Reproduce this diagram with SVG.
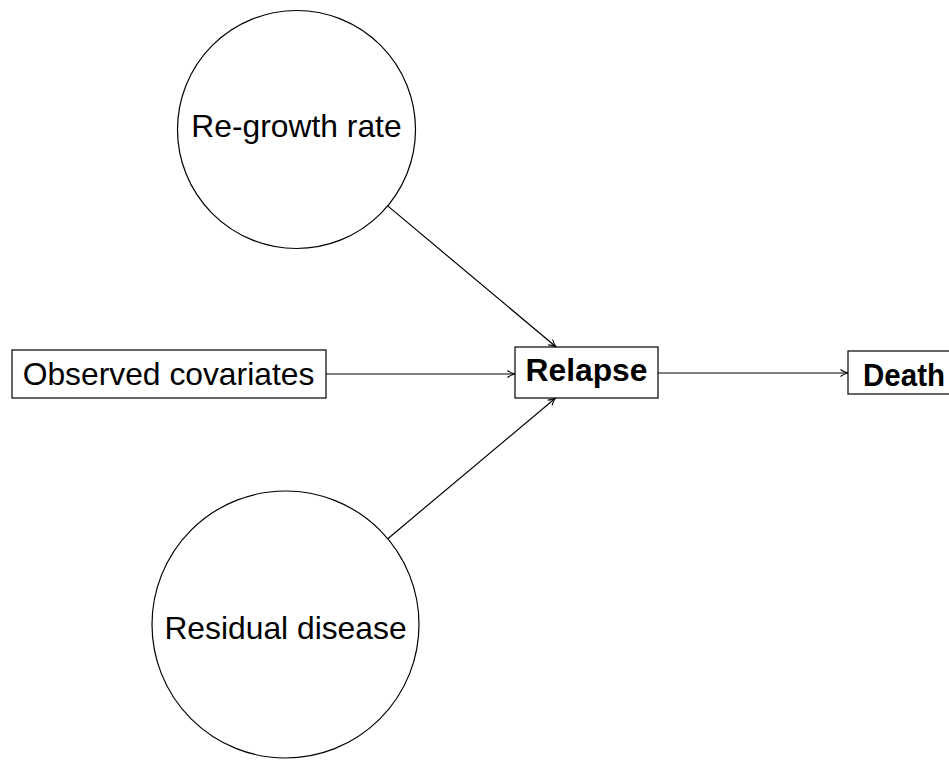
<svg xmlns="http://www.w3.org/2000/svg" width="949" height="760" viewBox="0 0 949 760">
<style>
.n{fill:#fff;stroke:#000;stroke-width:1.2}
.t{font-family:"Liberation Sans",Arial,sans-serif;font-size:31.8px;fill:#000;text-anchor:middle}
.b{font-weight:bold}
.e{stroke:#000;stroke-width:1.2;fill:none;marker-end:url(#ah)}
</style>
<defs>
<marker id="ah" viewBox="0 0 10 10" refX="9.5" refY="5" markerWidth="10" markerHeight="10" markerUnits="userSpaceOnUse" orient="auto">
<path d="M2,1.5 Q5,4 9.5,5 Q5,6 2,8.5" fill="none" stroke="#000" stroke-width="1.1"/>
</marker>
</defs>
<rect width="949" height="760" fill="#fff"/>
<g id="edges">
<line class="e" x1="387.7" y1="205.9" x2="556.2" y2="347"/>
<line class="e" x1="387.8" y1="538.7" x2="555.6" y2="398"/>
<line class="e" x1="326" y1="374" x2="515" y2="374"/>
<line class="e" x1="658" y1="373" x2="848" y2="373"/>
</g>
<g id="regrowth">
<circle class="n" cx="296.5" cy="129.5" r="119"/>
<text class="t" x="296.5" y="137">Re-growth rate</text>
</g>
<g id="residual">
<circle class="n" cx="285.5" cy="624.5" r="133.5"/>
<text class="t" x="285.5" y="638.5">Residual disease</text>
</g>
<g id="observed">
<rect class="n" x="12" y="350" width="314" height="48"/>
<text class="t" x="168.5" y="385">Observed covariates</text>
</g>
<g id="relapse">
<rect class="n" x="515" y="347" width="143" height="51"/>
<text class="t b" x="586.5" y="380.5">Relapse</text>
</g>
<g id="death">
<rect class="n" x="848" y="351" width="110" height="43"/>
<text class="t b" x="863" y="385.5" style="text-anchor:start" textLength="82" lengthAdjust="spacingAndGlyphs">Death</text>
</g>
</svg>
